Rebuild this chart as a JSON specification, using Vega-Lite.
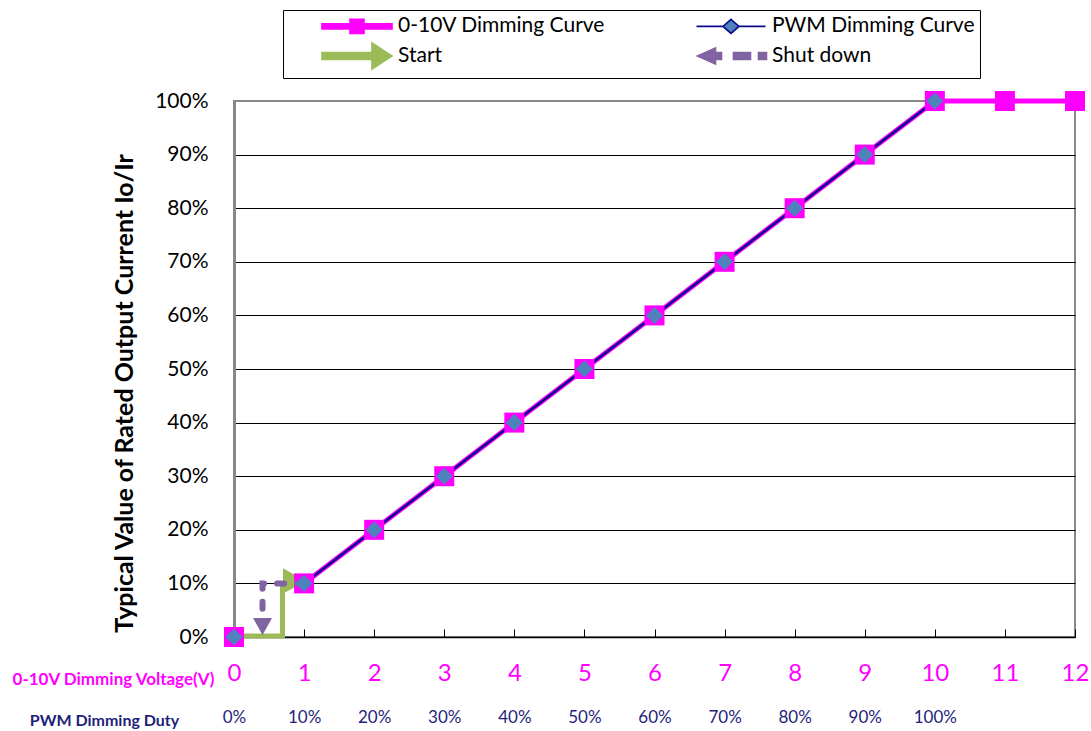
{
  "$schema": "https://vega.github.io/schema/vega-lite/v6.json",
  "width": 841,
  "height": 536,
  "autosize": "none",
  "padding": {"left": 234, "top": 101, "right": 16, "bottom": 94},
  "background": "white",
  "config": {
    "font": "Lato",
    "view": {"stroke": "#888888", "strokeWidth": 2}
  },
  "datasets": {
    "curves": [
      {"series": "0-10V Dimming Curve", "x": 0, "y": 0},
      {"series": "0-10V Dimming Curve", "x": 1, "y": 0.1},
      {"series": "0-10V Dimming Curve", "x": 2, "y": 0.2},
      {"series": "0-10V Dimming Curve", "x": 3, "y": 0.3},
      {"series": "0-10V Dimming Curve", "x": 4, "y": 0.4},
      {"series": "0-10V Dimming Curve", "x": 5, "y": 0.5},
      {"series": "0-10V Dimming Curve", "x": 6, "y": 0.6},
      {"series": "0-10V Dimming Curve", "x": 7, "y": 0.7},
      {"series": "0-10V Dimming Curve", "x": 8, "y": 0.8},
      {"series": "0-10V Dimming Curve", "x": 9, "y": 0.9},
      {"series": "0-10V Dimming Curve", "x": 10, "y": 1.0},
      {"series": "0-10V Dimming Curve", "x": 11, "y": 1.0},
      {"series": "0-10V Dimming Curve", "x": 12, "y": 1.0},
      {"series": "PWM Dimming Curve", "x": 0, "y": 0},
      {"series": "PWM Dimming Curve", "x": 1, "y": 0.1},
      {"series": "PWM Dimming Curve", "x": 2, "y": 0.2},
      {"series": "PWM Dimming Curve", "x": 3, "y": 0.3},
      {"series": "PWM Dimming Curve", "x": 4, "y": 0.4},
      {"series": "PWM Dimming Curve", "x": 5, "y": 0.5},
      {"series": "PWM Dimming Curve", "x": 6, "y": 0.6},
      {"series": "PWM Dimming Curve", "x": 7, "y": 0.7},
      {"series": "PWM Dimming Curve", "x": 8, "y": 0.8},
      {"series": "PWM Dimming Curve", "x": 9, "y": 0.9},
      {"series": "PWM Dimming Curve", "x": 10, "y": 1.0}
    ],
    "arrows": [
      {"series": "Start", "i": 0, "x": 0, "y": 0.002},
      {"series": "Start", "i": 1, "x": 0.692, "y": 0.002},
      {"series": "Start", "i": 2, "x": 0.692, "y": 0.1},
      {"series": "Shut down", "i": 0, "x": 1, "y": 0.1},
      {"series": "Shut down", "i": 1, "x": 0.407, "y": 0.1},
      {"series": "Shut down", "i": 2, "x": 0.407, "y": 0.036}
    ],
    "heads": [
      {"series": "Start", "x": 0.863, "y": 0.1045},
      {"series": "Shut down", "x": 0.407, "y": 0.0196}
    ]
  },
  "resolve": {"axis": {"x": "independent"}},
  "encoding": {
    "y": {
      "field": "y",
      "type": "quantitative",
      "scale": {"domain": [0, 1], "nice": false, "zero": false},
      "axis": {
        "title": "Typical Value of Rated Output Current Io/Ir",
        "format": ".0%",
        "values": [0, 0.1, 0.2, 0.3, 0.4, 0.5, 0.6, 0.7, 0.8, 0.9, 1.0],
        "grid": true,
        "gridColor": {"condition": {"test": "datum.value >= 0.99", "value": "#888888"}, "value": "#000000"},
        "gridWidth": 1,
        "domainColor": "#888888",
        "domainWidth": 3,
        "ticks": false,
        "labelFontSize": 21,
        "labelColor": "#000000",
        "labelPadding": 26,
        "titleFontSize": 25,
        "titleFontWeight": "bold",
        "titleColor": "#000000",
        "titleX": -102,
        "titleY": 292,
        "titleAngle": -90,
        "titleAlign": "center",
        "titleBaseline": "alphabetic"
      }
    }
  },
  "layer": [
    {
      "data": {"name": "arrows"},
      "transform": [{"filter": "datum.series === 'Start'"}],
      "mark": {"type": "line", "strokeWidth": 5, "strokeJoin": "miter", "strokeCap": "butt"},
      "encoding": {
        "x": {"field": "x", "type": "quantitative", "scale": {"domain": [0, 12], "nice": false, "zero": false}, "axis": null},
        "order": {"field": "i"},
        "color": {
          "field": "series",
          "type": "nominal",
          "scale": {
            "domain": ["0-10V Dimming Curve", "PWM Dimming Curve", "Start", "Shut down"],
            "range": ["#FF00FF", "#0A0A8C", "#9BBB59", "#8064A2"]
          },
          "legend": {
            "orient": "none",
            "direction": "horizontal",
            "legendX": 49,
            "legendY": -91,
            "title": null,
            "columns": 2,
            "columnPadding": 56,
            "rowPadding": 2,
            "padding": 5,
            "strokeColor": "#000000",
            "fillColor": "#ffffff",
            "symbolSize": 400,
            "symbolStrokeWidth": 2,
            "symbolOffset": 58,
            "labelOffset": 30,
            "labelFontSize": 21,
            "labelColor": "#000000",
            "labelFont": "Lato",
            "labelLimit": 400,
            "encode": {
              "symbols": {
                "update": {
                  "shape": {"signal": "datum.value === '0-10V Dimming Curve' ? 'M-3.5,-0.25H3.5V0.25H-3.5Z M-0.7,-0.7H0.7V0.7H-0.7Z' : datum.value === 'PWM Dimming Curve' ? 'M-3.45,0H-0.8 M0.8,0H3.45 M0,-0.7L0.8,0L0,0.7L-0.8,0Z' : datum.value === 'Start' ? 'M-3.5,-0.35H1.5V-1.3L3.5,0L1.5,1.3V0.35H-3.5Z' : 'M-3.35,0L-1.55,-0.8V-0.35H-0.95V0.35H-1.55V0.8Z M0.25,-0.35H1.95V0.35H0.25Z M2.75,-0.35H3.55V0.35H2.75Z'"},
                  "fill": {"signal": "datum.value === '0-10V Dimming Curve' ? '#FF00FF' : datum.value === 'PWM Dimming Curve' ? '#4F81BD' : datum.value === 'Start' ? '#9BBB59' : '#8064A2'"},
                  "stroke": {"signal": "datum.value === 'PWM Dimming Curve' ? '#0A0A8C' : 'transparent'"},
                  "strokeWidth": {"value": 1.6},
                  "strokeDash": {"value": []},
                  "opacity": {"value": 1},
                  "fillOpacity": {"value": 1},
                  "size": {"value": 400}
                }
              }
            }
          }
        }
      }
    },
    {
      "data": {"name": "heads"},
      "transform": [{"filter": "datum.series === 'Start'"}],
      "mark": {"type": "point", "filled": true, "opacity": 1, "color": "#9BBB59", "shape": "M-1,-1.1L1,0L-1,1.1Z", "size": 529},
      "encoding": {
        "x": {"field": "x", "type": "quantitative", "scale": {"domain": [0, 12], "nice": false, "zero": false}, "axis": null}
      }
    },
    {
      "data": {"name": "curves"},
      "transform": [{"filter": "datum.series === '0-10V Dimming Curve' && datum.x >= 1"}],
      "mark": {"type": "line", "color": "#FF00FF", "strokeWidth": 5},
      "encoding": {
        "x": {
          "field": "x",
          "type": "quantitative",
          "scale": {"domain": [0, 12], "nice": false, "zero": false},
          "axis": {
            "orient": "bottom",
            "values": [0, 1, 2, 3, 4, 5, 6, 7, 8, 9, 10, 11, 12],
            "format": "d",
            "title": "0-10V Dimming Voltage(V)",
            "labelColor": "#FF00FF",
            "labelFontSize": 24,
            "labelPadding": 32,
            "labelFlush": false,
            "labelOverlap": false,
            "tickSize": -8,
            "tickColor": "#000000",
            "domainColor": "#000000",
            "domainWidth": 1.5,
            "grid": false,
            "titleColor": "#FF00FF",
            "titleFontSize": 17,
            "titleFontWeight": "bold",
            "titleX": -121,
            "titleY": 42,
            "titleAlign": "center",
            "titleBaseline": "middle",
            "titleAngle": 0
          }
        }
      }
    },
    {
      "data": {"name": "curves"},
      "transform": [{"filter": "datum.series === 'PWM Dimming Curve' && datum.x >= 1"}],
      "mark": {"type": "line", "color": "#0A0A8C", "strokeWidth": 2.5},
      "encoding": {
        "x": {
          "field": "x",
          "type": "quantitative",
          "scale": {"domain": [0, 12], "nice": false, "zero": false},
          "axis": {
            "orient": "bottom",
            "values": [0, 1, 2, 3, 4, 5, 6, 7, 8, 9, 10],
            "labelExpr": "round(datum.value * 10) + '%'",
            "title": "PWM Dimming Duty",
            "labelColor": "#1F1F7A",
            "labelFontSize": 17,
            "labelPadding": 72,
            "labelDx": 4,
            "labelFlush": false,
            "labelOverlap": false,
            "ticks": false,
            "domain": false,
            "grid": false,
            "titleColor": "#1F1F7A",
            "titleFontSize": 16,
            "titleFontWeight": "bold",
            "titleX": -130,
            "titleY": 83,
            "titleAlign": "center",
            "titleBaseline": "middle",
            "titleAngle": 0
          }
        }
      }
    },
    {
      "data": {"name": "curves"},
      "transform": [{"filter": "datum.series === '0-10V Dimming Curve'"}],
      "mark": {"type": "point", "shape": "square", "filled": true, "opacity": 1, "color": "#FF00FF", "size": 400},
      "encoding": {
        "x": {"field": "x", "type": "quantitative", "scale": {"domain": [0, 12], "nice": false, "zero": false}, "axis": null}
      }
    },
    {
      "data": {"name": "arrows"},
      "transform": [{"filter": "datum.series === 'Shut down'"}],
      "mark": {"type": "line", "color": "#8064A2", "strokeWidth": 6, "strokeDash": [7, 13], "strokeCap": "round"},
      "encoding": {
        "x": {"field": "x", "type": "quantitative", "scale": {"domain": [0, 12], "nice": false, "zero": false}, "axis": null},
        "order": {"field": "i"}
      }
    },
    {
      "data": {"name": "heads"},
      "transform": [{"filter": "datum.series === 'Shut down'"}],
      "mark": {"type": "point", "filled": true, "opacity": 1, "color": "#8064A2", "shape": "M-1,-0.9L1,-0.9L0,0.9Z", "size": 361},
      "encoding": {
        "x": {"field": "x", "type": "quantitative", "scale": {"domain": [0, 12], "nice": false, "zero": false}, "axis": null}
      }
    },
    {
      "data": {"name": "curves"},
      "transform": [{"filter": "datum.series === 'PWM Dimming Curve'"}],
      "mark": {"type": "point", "shape": "diamond", "filled": true, "opacity": 1, "color": "#4F81BD", "size": 289},
      "encoding": {
        "x": {"field": "x", "type": "quantitative", "scale": {"domain": [0, 12], "nice": false, "zero": false}, "axis": null}
      }
    }
  ]
}
